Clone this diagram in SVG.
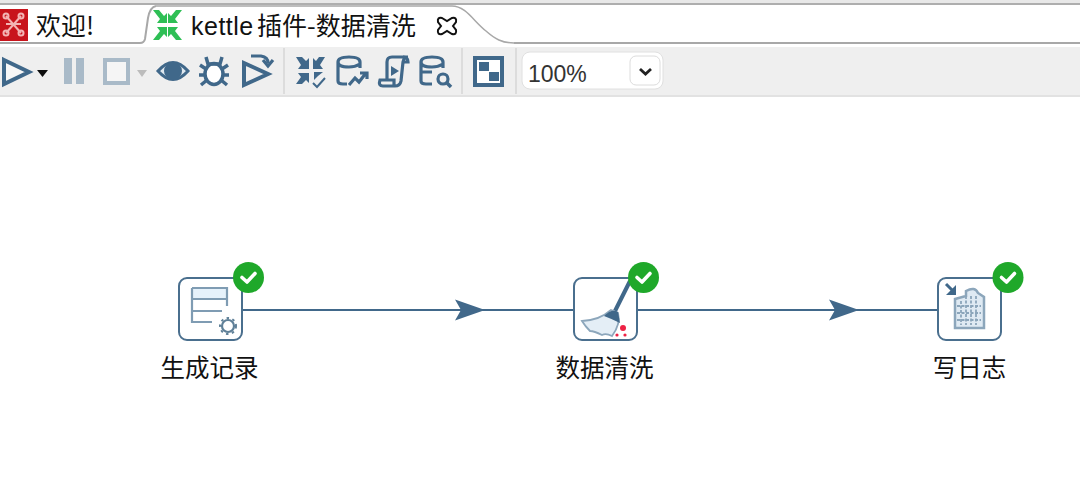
<svg xmlns="http://www.w3.org/2000/svg" width="1080" height="480" viewBox="0 0 1080 480">
<style>
.cn{font-family:"Noto Sans CJK SC","Noto Sans",sans-serif;fill:#111}
.lat{font-family:"Liberation Sans",Arial,sans-serif;fill:#111}
.ic{fill:none;stroke:#41688a;stroke-width:4}
.thin{fill:none;stroke:#41688a;stroke-width:3.200}
.box{fill:#fff;stroke:#4a6f8e;stroke-width:2}
.conn{stroke:#41688a;stroke-width:2;fill:none}
.badge{fill:#1fa82a}
.tick{fill:none;stroke:#fff;stroke-width:3.600;stroke-linecap:round;stroke-linejoin:round}
.label{font-size:24.500px;text-anchor:middle}
</style>
<defs>
<marker id="arrow" markerUnits="userSpaceOnUse" markerWidth="32" markerHeight="24" refX="30" refY="12" orient="auto">
<path d="M0,1.500 L30,12 L0,22.500 L6,12Z" fill="#41688a"/>
</marker>
<filter id="soft" x="-5%" y="-5%" width="110%" height="110%"><feGaussianBlur stdDeviation="0.500"/></filter>
</defs>
<rect width="1080" height="480" fill="#fff"/>
<g id="chrome">
<rect x="0" y="0" width="1080" height="3" fill="#e8e8e8"/>
<rect x="0" y="3" width="1080" height="2" fill="#aeaeae"/>
<rect x="0" y="47" width="1080" height="48" fill="#efefef"/>
<rect x="0" y="95" width="1080" height="2" fill="#e2e2e2"/>
<path d="M514,43 H1080" stroke="#a8a8a8" stroke-width="2" fill="none"/>
<path d="M0,43 H140 Q144,43 145,39 L148,18 Q150,7 156,6" stroke="#a8a8a8" stroke-width="2" fill="none"/>
<path d="M156,6 H452 C466,6 474,22 486,31 C495,39 502,43 514,43" stroke="#a8a8a8" stroke-width="1.500" fill="none"/>
<rect x="283" y="48" width="2" height="46" fill="#dcdcdc"/>
<rect x="461" y="48" width="2" height="46" fill="#dcdcdc"/>
<rect x="515" y="48" width="2" height="46" fill="#dcdcdc"/>
</g>
<g id="tab-welcome">
<rect x="0" y="9" width="28" height="32" fill="#c8141c"/>
<g fill="none" stroke="#f3b4b4" stroke-width="2" filter="url(#soft)">
<path d="M6,16 L21,33 M21,16 L6,33 M6,24 H21"/>
<circle cx="6" cy="16" r="2.500"/><circle cx="21" cy="16" r="2.500"/><circle cx="6" cy="33" r="2.500"/><circle cx="21" cy="33" r="2.500"/>
</g>
<text class="cn" x="36" y="35" font-size="25">欢迎!</text>
</g>
<g id="tab-active">
<g fill="#2fbf55" filter="url(#soft)">
<path d="M153,10 L159,10 L164,16 L167,13 L167,23 L157,23 L160,19 Z"/>
<path d="M182,10 L176,10 L171,16 L168,13 L168,23 L178,23 L175,19 Z"/>
<path d="M153,40 L159,40 L164,34 L167,37 L167,27 L157,27 L160,31 Z"/>
<path d="M182,40 L176,40 L171,34 L168,37 L168,27 L178,27 L175,31 Z"/>
</g>
<text class="lat" x="191" y="35" font-size="25" letter-spacing="0.500">kettle</text>
<text class="cn" x="257" y="35" font-size="25">插件-数据清洗</text>
<path d="M442,18 L447,21 L452,18 Q457,17 456,22 L453,26 L456,30 Q457,35 452,34 L447,31 L442,34 Q437,35 438,30 L441,26 L438,22 Q437,17 442,18Z" fill="none" stroke="#111" stroke-width="2"/>
</g>
<g id="toolbar" filter="url(#soft)">
<path d="M4,60 L29,72 L4,84Z" class="ic" style="fill:#f7f7f7"/>
<path d="M37,70 H48 L42.500,77Z" fill="#111"/>
<rect x="64" y="58" width="8" height="26" fill="#a9bac8"/>
<rect x="76" y="58" width="8" height="26" fill="#a9bac8"/>
<rect x="105" y="60" width="23" height="23" fill="#f5f5f5" stroke="#a9bac8" stroke-width="4"/>
<path d="M137,70 H147 L142,77Z" fill="#bcbcbc"/>
<path d="M158,71 Q173,54 188,71 Q173,88 158,71Z" fill="#dfe8ef" stroke="#41688a" stroke-width="3"/>
<circle cx="173" cy="71" r="9" fill="#41688a"/>
<g id="bug" fill="none" stroke="#41688a" stroke-width="3.500">
<ellipse cx="214" cy="74" rx="9" ry="10.500" fill="#fff"/>
<path d="M206,57 L208,64 H220 L222,57 M200,65 L206,69 M228,65 L222,69 M199,75 H205 M229,75 H223 M201,85 L207,80 M227,85 L221,80"/>
</g>
<path d="M244,63 L268,74 L244,85Z" class="ic"/>
<path d="M251,56 H261 Q268,57 268,63" class="thin"/>
<path d="M263,60 L268,66 L273,60" class="thin"/>
<g id="tb-verify" fill="#41688a">
<path d="M296,57 H302 L306,61 L309,58 V69 H298 L301,65Z"/>
<path d="M325,57 H319 L316,61 L313,58 V69 H323 L320,65Z"/>
<path d="M296,84 H302 L306,80 L309,83 V73 H298 L301,77Z"/>
<path d="M323,72 H314 V80 L318,76Z"/>
<path d="M313,83 L317,87 L325,78" fill="none" stroke="#41688a" stroke-width="2"/>
</g>
<g id="tb-db" class="thin">
<path d="M338,62 Q338,57 349,57 Q360,57 360,62 V68 M338,62 Q338,67 349,67 Q355,67 360,64 M338,62 V81 Q338,84 343,84 H347"/>
<path d="M349,85 L355,78 L359,82 L366,73 M360,73 H367 V79"/>
</g>
<g id="tb-script" class="thin">
<path d="M387,80 V62 Q387,57 392,57 H408 Q404,57 403,62 L401,81 Q400,86 395,86 H383 Q378,86 380,80 H394 V86"/>
<path d="M403,57 Q408,57 408,62 H403"/>
</g>
<path d="M391,66 L399,71 L391,76Z" fill="#41688a"/>
<g id="tb-sql" class="thin">
<path d="M421,62 Q421,57 432,57 Q443,57 443,62 V68 M421,62 Q421,67 432,67 Q438,67 443,64 M421,62 V81 Q421,84 426,84 H432 M421,72 H432"/>
<circle cx="443" cy="79" r="5"/>
<path d="M447,83 L451,87" stroke-width="3.500"/>
</g>
<g id="tb-grid">
<rect x="475" y="58" width="27" height="27" fill="#fff" stroke="#41688a" stroke-width="4"/>
<rect x="479" y="62" width="10" height="9" fill="#41688a"/>
<rect x="489" y="72" width="10" height="9" fill="#41688a"/>
</g>
</g>
<g id="zoom-box">
<rect x="522" y="52" width="141" height="37" rx="8" fill="#fff" stroke="#e0e0e0"/>
<rect x="630" y="56" width="30" height="29" rx="6" fill="#fff" stroke="#dcdcdc"/>
<path d="M640,69 L645.500,74 L651,69" fill="none" stroke="#222" stroke-width="2.800"/>
<text class="lat" x="528" y="82" font-size="23" style="fill:#333">100%</text>
</g>
<g id="connectors">
<path class="conn" d="M243,310 H485" marker-end="url(#arrow)"/>
<path class="conn" d="M485,310 H574"/>
<path class="conn" d="M638,310 H859" marker-end="url(#arrow)"/>
<path class="conn" d="M859,310 H938"/>
</g>
<g id="node-generate">
<rect class="box" x="179" y="278" width="63" height="62" rx="8"/>
<g filter="url(#soft)">
<rect x="192" y="288" width="35" height="10" fill="#e6f2fb"/>
<path d="M192,288 H227 V306 M192,288 V322 H212 M192,299 H227 M192,311 H222" fill="none" stroke="#7f9cb3" stroke-width="2.200"/>
<circle cx="228" cy="326" r="6" fill="#fff" stroke="#5f8098" stroke-width="2.200"/>
<circle cx="228" cy="326" r="8" fill="none" stroke="#5f8098" stroke-width="2" stroke-dasharray="2.500 3.500"/>
</g>
<text class="cn label" x="209.500" y="377">生成记录</text>
</g>
<g id="node-clean">
<rect class="box" x="574" y="278" width="63" height="62" rx="8"/>
<g filter="url(#soft)">
<path d="M615,311 L630,281" stroke="#41688a" stroke-width="4" fill="none"/>
<path d="M582,321 Q600,320 611,310 L618,313 Q621,324 612,336 Q606,333 602,335 Q594,331 590,331 Q585,326 582,321Z" fill="#e4eef6" stroke="#8ca6bb" stroke-width="1.800"/>
<path d="M604,316 Q612,308 618,312 L620,323 Q612,319 604,316Z" fill="#41688a"/>
<circle cx="623" cy="328" r="3" fill="#ee2244"/>
<circle cx="617" cy="335" r="1.600" fill="#ee2244"/>
<circle cx="625" cy="335" r="1.600" fill="#ee2244"/>
</g>
<text class="cn label" x="604.500" y="377">数据清洗</text>
</g>
<g id="node-log">
<rect class="box" x="938" y="278" width="63" height="62" rx="8"/>
<g filter="url(#soft)">
<path d="M946,284 L955,293" stroke="#41688a" stroke-width="3" fill="none"/>
<path d="M946,295 L956,295 V285 Z" fill="#41688a"/>
<path d="M955,328 V299 L966,296 V291 Q975,286 978,293 L984,297 V328Z" fill="#dfeaf3" stroke="#8ca6bb" stroke-width="2.500"/>
<path d="M961,301 V325 M966,296 V325 M971,296 V325 M976,296 V325 M957,306 H981 M957,313 H981 M957,320 H981" stroke="#8ca6bb" stroke-width="1.800" stroke-dasharray="3 1.500" fill="none"/>
</g>
<text class="cn label" x="969.500" y="377">写日志</text>
</g>
<g id="badges">
<circle class="badge" cx="248.500" cy="277.500" r="15.500"/>
<path class="tick" d="M242,277.500 L247,282 L255,273.500"/>
<circle class="badge" cx="643.500" cy="277.500" r="15.500"/>
<path class="tick" d="M637,277.500 L642,282 L650,273.500"/>
<circle class="badge" cx="1008" cy="277.500" r="15.500"/>
<path class="tick" d="M1001.500,277.500 L1006.500,282 L1014.500,273.500"/>
</g>
</svg>
